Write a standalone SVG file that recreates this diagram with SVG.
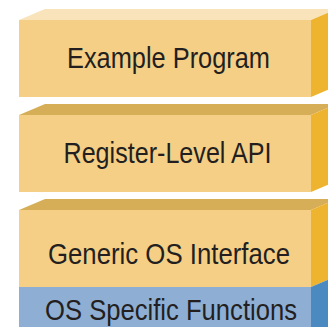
<svg xmlns="http://www.w3.org/2000/svg" width="328" height="327" viewBox="0 0 328 327">
  <style>
    .front { fill: #F5CF86; }
    .top-light { fill: #F8E3BA; }
    .top-dark { fill: #D6AE58; }
    .side { fill: #EEB32F; }
    .front-blue { fill: #8EAFD3; }
    .side-blue { fill: #4A8AC0; }
    .label { font-family: "Liberation Sans", Arial, sans-serif; font-size: 30px; fill: #231F20; }
  </style>
  <rect width="328" height="327" fill="#FFFFFF"/>

  <!-- Layer 1 -->
  <g id="example-program">
    <polygon class="top-light" points="19,20 45,9 337,9 311,20"/>
    <polygon class="side" points="311,20 337,9 337,86 311,97"/>
    <rect class="front" x="19" y="20" width="292" height="77"/>
    <text class="label" x="67" y="68" textLength="203" lengthAdjust="spacingAndGlyphs">Example Program</text>
  </g>

  <!-- Layer 2 -->
  <g id="register-level-api">
    <polygon class="top-dark" points="19,115 45,104 337,104 311,115"/>
    <polygon class="side" points="311,115 337,104 337,181 311,192"/>
    <rect class="front" x="19" y="115" width="292" height="77"/>
    <text class="label" x="63.5" y="163.3" textLength="208" lengthAdjust="spacingAndGlyphs">Register-Level API</text>
  </g>

  <!-- Layer 3 -->
  <g id="generic-os-interface">
    <polygon class="top-dark" points="19,210 45,199 337,199 311,210"/>
    <polygon class="side" points="311,210 337,199 337,276 311,287"/>
    <rect class="front" x="19" y="210" width="292" height="77"/>
    <text class="label" x="48" y="264.3" textLength="242" lengthAdjust="spacingAndGlyphs">Generic OS Interface</text>
  </g>

  <!-- Layer 4 -->
  <g id="os-specific-functions">
    <polygon class="side-blue" points="311,287 337,276 337,340 311,340"/>
    <rect class="front-blue" x="19" y="287" width="292" height="50"/>
    <text class="label" x="45" y="320" textLength="252" lengthAdjust="spacingAndGlyphs">OS Specific Functions</text>
  </g>

  <!-- No connectors in this stack -->
  <g id="connectors"/>
</svg>
